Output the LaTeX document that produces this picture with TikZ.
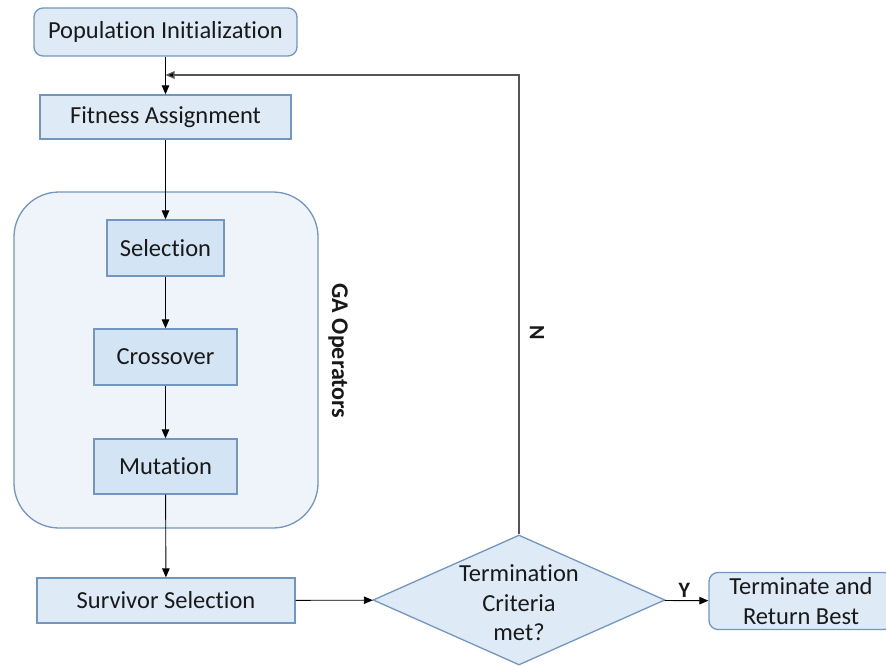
\documentclass[tikz,border=0pt]{standalone}
\usepackage{fontspec}
\setmainfont{Carlito}[Ligatures={NoCommon}]
\usetikzlibrary{shapes.geometric,arrows.meta}
\definecolor{boxfill}{HTML}{DEEAF6}
\definecolor{innerfill}{HTML}{D3E4F4}
\definecolor{contfill}{HTML}{EEF4FA}
\definecolor{boxline}{HTML}{7396C0}
\definecolor{loopline}{HTML}{555555}
\begin{document}
\begin{tikzpicture}[x=1pt,y=1pt,
  every node/.style={font=\fontsize{24.5}{29.5}\selectfont, text=black!90},
  procbox/.style={draw=boxline, line width=1.3pt, fill=boxfill, inner sep=0pt, anchor=center},
  roundbox/.style={procbox, rounded corners=9pt},
  innerbox/.style={procbox, fill=innerfill},
  dia/.style={diamond, draw=boxline, line width=1.3pt, fill=boxfill, inner sep=0pt, minimum width=292pt, minimum height=130pt, aspect=2.246},
  conn/.style={line width=0.9pt, draw=black, -{Triangle[length=9pt,width=7.5pt]}},
  lbl/.style={font=\fontsize{22}{26}\selectfont\bfseries}
]
\useasboundingbox (0,0) rectangle (886,-666);
% container
\node[draw=boxline, line width=1.3pt, fill=contfill, rounded corners=45pt, minimum width=304pt, minimum height=336pt, inner sep=0pt] (cont) at (166,-360) {};
\node[lbl, font=\fontsize{24}{28}\selectfont\bfseries, rotate=-90] (gaop) at (338,-351) {GA Operators};
% nodes
\node[roundbox, minimum width=263pt, minimum height=48pt] (pop) at (165.5,-32) {Population Initialization};
\node[procbox, minimum width=251pt, minimum height=44pt] (fit) at (165.5,-117) {Fitness Assignment};
\node[innerbox, minimum width=117pt, minimum height=56pt] (sel) at (165.5,-248) {Selection};
\node[innerbox, minimum width=143pt, minimum height=56pt] (cro) at (165.5,-357) {Crossover};
\node[innerbox, minimum width=143pt, minimum height=55pt] (mut) at (165.5,-466.5) {Mutation};
\node[procbox, minimum width=258pt, minimum height=45pt] (sur) at (166,-600.5) {Survivor Selection};
\node[dia] (dec) at (519,-600) {};
\node[align=center, inner sep=0pt] (dectext) at (519,-603) {Termination\\Criteria\\met?};
\node[roundbox, align=center, minimum width=184pt, minimum height=57pt] (term) at (801,-601) {Terminate and\\Return Best};
% connectors
\coordinate (join) at (165.5,-75);
\draw[conn] (pop) -- (fit);
\draw[conn] (fit) -- (sel);
\draw[conn] (sel) -- (cro);
\draw[conn] (cro) -- (mut);
\draw[conn] (mut) -- (sur);
\draw[conn] (sur) -- (dec);
\draw[conn] (dec) -- node[lbl, above, pos=0.45, inner sep=3pt] (ylab) {Y} (term);
\draw[conn, draw=loopline, line width=1.3pt, -{Triangle[length=9pt,width=7.5pt,fill=black]}] (dec.north) |- (join);
\node[lbl, rotate=-90] (nlab) at (537,-333) {N};
\end{tikzpicture}
\end{document}
